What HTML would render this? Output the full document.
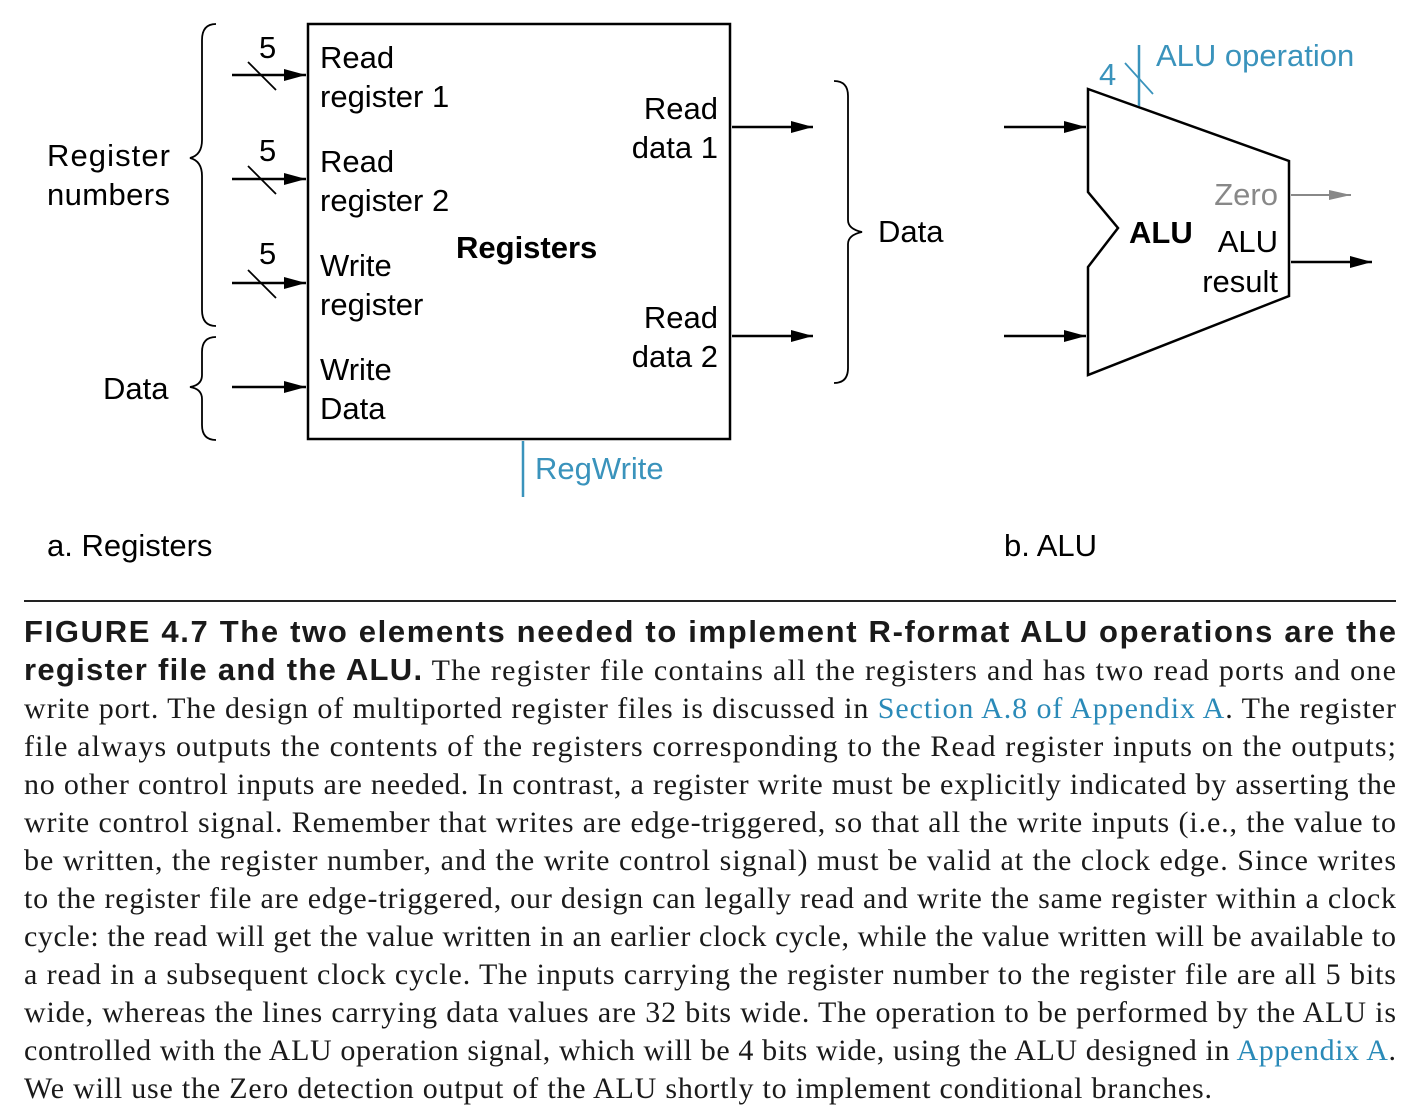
<!DOCTYPE html>
<html><head><meta charset="utf-8"><style>
body{margin:0;width:1421px;height:1117px;background:#fff;position:relative;overflow:hidden}
svg{position:absolute;left:0;top:0}
</style></head><body>
<svg width="1421" height="1117" viewBox="0 0 1421 1117" font-family="Liberation Sans, sans-serif">
<defs>
<marker id="g" markerWidth="22" markerHeight="10" refX="22" refY="5" orient="auto" markerUnits="userSpaceOnUse"><path d="M0,0L22,5L0,10z" fill="#888"/></marker>
<marker id="b" markerWidth="22" markerHeight="12" refX="22" refY="6" orient="auto" markerUnits="userSpaceOnUse"><path d="M0,0L22,6L0,12z" fill="#000"/></marker></defs>
<g stroke="#000" stroke-width="2.5" fill="none">
<rect x="308" y="24" width="422" height="415"/>
<line x1="232" y1="75" x2="306" y2="75" marker-end="url(#b)"/>
<line x1="232" y1="179" x2="306" y2="179" marker-end="url(#b)"/>
<line x1="232" y1="283" x2="306" y2="283" marker-end="url(#b)"/>
<line x1="232" y1="387" x2="306" y2="387" marker-end="url(#b)"/>
<line x1="732" y1="127" x2="813" y2="127" marker-end="url(#b)"/>
<line x1="732" y1="336" x2="813" y2="336" marker-end="url(#b)"/>
<line x1="1004" y1="127" x2="1086" y2="127" marker-end="url(#b)"/>
<line x1="1004" y1="336" x2="1086" y2="336" marker-end="url(#b)"/>
<line x1="1291" y1="262" x2="1372" y2="262" marker-end="url(#b)"/>
<polygon points="1088,89 1289,161 1289,296 1088,375 1088,267 1118,228 1088,192"/>
</g>
<g stroke="#000" stroke-width="1.8" fill="none">
<line x1="248" y1="62" x2="276" y2="90"/><line x1="248" y1="166" x2="276" y2="194"/><line x1="248" y1="270" x2="276" y2="298"/>
<path d="M216,24 Q202,24 202,40 L202,140 Q202,155 190,158 Q202,161 202,176 L202,310 Q202,326 216,326"/>
<path d="M216,337 Q202,337 202,352 L202,375 Q202,385 190,387 Q202,389 202,399 L202,425 Q202,440 216,440"/>
<path d="M834,81 Q848,81 848,96 L848,220 Q848,229 862,232 Q848,235 848,244 L848,368 Q848,383 834,383"/>
</g>
<line x1="1291" y1="195" x2="1351" y2="195" stroke="#888" stroke-width="2" marker-end="url(#g)"/>
<g stroke="#3a93bc" stroke-width="2.5"><line x1="1139" y1="45" x2="1139" y2="106"/><line x1="523" y1="441" x2="523" y2="497"/></g>
<line x1="1125" y1="63" x2="1153" y2="94" stroke="#3a93bc" stroke-width="1.8"/>
<g font-size="31" fill="#000">
<text x="259" y="58">5</text><text x="259" y="161">5</text><text x="259" y="264">5</text>
<text x="320" y="68">Read</text><text x="320" y="107">register 1</text>
<text x="320" y="172">Read</text><text x="320" y="211">register 2</text>
<text x="320" y="276">Write</text><text x="320" y="315">register</text>
<text x="320" y="380">Write</text><text x="320" y="419">Data</text>
<text x="718" y="119" text-anchor="end">Read</text><text x="718" y="158" text-anchor="end">data 1</text>
<text x="718" y="328" text-anchor="end">Read</text><text x="718" y="367" text-anchor="end">data 2</text>
<text x="456" y="258" font-weight="bold">Registers</text>
<text x="47" y="166" textLength="123">Register</text><text x="47" y="205" textLength="123">numbers</text>
<text x="103" y="399">Data</text>
<text x="878" y="242">Data</text>
<text x="1129" y="243" font-weight="bold">ALU</text>
<text x="1278" y="252" text-anchor="end">ALU</text><text x="1278" y="292" text-anchor="end">result</text>
<text x="1278" y="205" text-anchor="end" fill="#888">Zero</text>
<text x="47" y="556">a. Registers</text><text x="1004" y="556">b. ALU</text>
<text x="1156" y="66" fill="#3a93bc">ALU operation</text>
<text x="1099" y="85" fill="#3a93bc">4</text>
<text x="535" y="479" fill="#3a93bc">RegWrite</text>
</g>
<rect x="24" y="600" width="1372" height="2" fill="#222"/>
<g font-family="Liberation Serif, serif" font-size="30" fill="#1a1a1a" lengthAdjust="spacing">
<text x="24" y="642" textLength="1372" font-family="Liberation Sans, sans-serif" font-weight="bold" font-size="31">FIGURE 4.7  The two elements needed to implement R-format ALU operations are the</text>
<text x="24" y="680" textLength="1372"><tspan font-family="Liberation Sans, sans-serif" font-weight="bold" font-size="31">register file and the ALU.</tspan> The register file contains all the registers and has two read ports and one</text>
<text x="24" y="718" textLength="1372">write port. The design of multiported register files is discussed in <tspan fill="#2a8ab8">Section A.8 of Appendix A</tspan>. The register</text>
<text x="24" y="756" textLength="1372">file always outputs the contents of the registers corresponding to the Read register inputs on the outputs;</text>
<text x="24" y="794" textLength="1372">no other control inputs are needed. In contrast, a register write must be explicitly indicated by asserting the</text>
<text x="24" y="832" textLength="1372">write control signal. Remember that writes are edge-triggered, so that all the write inputs (i.e., the value to</text>
<text x="24" y="870" textLength="1372">be written, the register number, and the write control signal) must be valid at the clock edge. Since writes</text>
<text x="24" y="908" textLength="1372">to the register file are edge-triggered, our design can legally read and write the same register within a clock</text>
<text x="24" y="946" textLength="1372">cycle: the read will get the value written in an earlier clock cycle, while the value written will be available to</text>
<text x="24" y="984" textLength="1372">a read in a subsequent clock cycle. The inputs carrying the register number to the register file are all 5 bits</text>
<text x="24" y="1022" textLength="1372">wide, whereas the lines carrying data values are 32 bits wide. The operation to be performed by the ALU is</text>
<text x="24" y="1060" textLength="1372">controlled with the ALU operation signal, which will be 4 bits wide, using the ALU designed in <tspan fill="#2a8ab8">Appendix A</tspan>.</text>
<text x="24" y="1098" textLength="1188">We will use the Zero detection output of the ALU shortly to implement conditional branches.</text>
</g>
</svg>
</body></html>
